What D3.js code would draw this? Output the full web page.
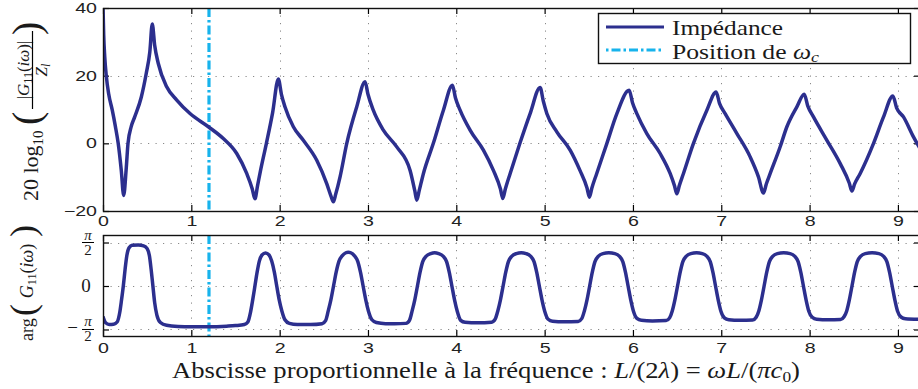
<!DOCTYPE html>
<html><head><meta charset="utf-8">
<script src="https://cdn.jsdelivr.net/npm/d3@7"></script>
<style>
html,body{margin:0;padding:0;background:#fff;}
svg{display:block;}
.serif{font-family:"Liberation Serif","Times New Roman",serif;}
</style></head>
<body>
<script>
// ---------- data ----------
const xTicks = [0,1,2,3,4,5,6,7,8,9];
const magTicks = [-20,0,20,40];
const phaseTicks = [-Math.PI/2, 0, Math.PI/2];
const omegaC = 1.2;

const magX = [0,0.008,0.02,0.037,0.065,0.105,0.14,0.172,0.207,0.234,0.264,0.283,0.32,0.359,0.434,0.49,0.53,0.558,0.585,0.626,0.721,0.835,0.985,1.193,1.362,1.514,1.627,1.69,1.72,1.75,1.78,1.85,1.92,1.985,2.02,2.06,2.155,2.268,2.42,2.533,2.58,2.608,2.635,2.684,2.76,2.873,2.967,3.0,3.06,3.174,3.326,3.477,3.53,3.553,3.58,3.628,3.74,3.854,3.956,3.99,4.043,4.156,4.307,4.42,4.5,4.527,4.555,4.61,4.72,4.836,4.949,4.985,5.025,5.138,5.289,5.4,5.48,5.507,5.535,5.59,5.705,5.818,5.957,5.995,6.044,6.157,6.308,6.421,6.47,6.497,6.525,6.572,6.685,6.837,6.942,6.98,7.044,7.177,7.327,7.421,7.478,7.51,7.554,7.667,7.743,7.856,7.939,7.98,8.044,8.196,8.347,8.45,8.479,8.51,8.573,8.724,8.837,8.943,8.985,9.063,9.176,9.25];
const magY = [40.5,32,25.5,20,14.5,9.8,5,0,-8,-15.4,-7,0,5,7.8,13.7,20.7,27,35.3,29,23.6,16.7,12.8,8.8,4.9,1.4,-3.0,-8.9,-13.5,-16.4,-12.5,-8.5,0,9,19.0,14.5,10.8,4.9,0.9,-5.0,-11.9,-15.5,-17.3,-15,-9.9,0,10.8,18.2,14.5,9.8,3.9,-1.05,-8.0,-14,-16.8,-14,-8.9,0,9.8,17.2,13.5,9.8,3.9,-2.0,-8.0,-13.5,-16.3,-13.5,-8.9,0,8.8,16.5,12.5,8.8,3.4,-2,-8,-13.2,-15.9,-13.2,-8.9,0,8.8,15.7,12,8.8,2.9,-3.0,-8.9,-12.5,-14.9,-12.5,-8.9,0,9.8,15.2,11.8,8.8,2.9,-4.0,-9.9,-14.7,-12,-8.9,-1.0,4.9,10.8,14.5,11,7.8,0.9,-6.0,-11.8,-14.1,-12,-8.9,0,7.8,14,10.5,7.8,1.9,-1.5];

const phaseX = [0,0.03,0.07,0.12,0.16,0.19,0.21,0.23,0.25,0.27,0.295,0.33,0.4,0.46,0.5,0.525,0.545,0.565,0.585,0.61,0.65,0.72,0.85,1.0,1.2,1.4,1.5,
  1.6,1.64,1.67,1.695,1.72,1.745,1.77,1.8,1.84,1.88,1.91,1.94,1.967,1.995,2.025,2.06,2.11,2.2,2.35,
  2.48,2.52,2.55,2.58,2.61,2.64,2.67,2.71,2.75,2.777,2.805,2.845,2.885,2.915,2.945,2.975,3.005,3.045,3.095,3.2,3.3,
  3.43,3.47,3.5,3.53,3.56,3.59,3.62,3.66,3.71,3.755,3.8,3.85,3.89,3.92,3.95,3.98,4.01,4.05,4.1,4.24,
  4.4,4.44,4.47,4.5,4.53,4.56,4.59,4.63,4.68,4.735,4.79,4.84,4.88,4.91,4.94,4.97,5.0,5.04,5.09,5.22,
  5.38,5.42,5.45,5.48,5.51,5.54,5.57,5.61,5.66,5.727,5.795,5.845,5.885,5.915,5.945,5.975,6.005,6.045,6.095,6.22,
  6.375,6.415,6.445,6.475,6.505,6.535,6.565,6.605,6.655,6.72,6.785,6.835,6.875,6.905,6.935,6.965,6.995,7.035,7.085,7.21,
  7.355,7.395,7.425,7.455,7.485,7.515,7.545,7.585,7.635,7.707,7.78,7.83,7.87,7.9,7.93,7.96,7.99,8.03,8.08,8.21,
  8.35,8.39,8.42,8.45,8.48,8.51,8.54,8.58,8.63,8.707,8.785,8.835,8.875,8.905,8.935,8.965,8.995,9.035,9.085,9.25];
const phaseY = [-1.1,-1.33,-1.39,-1.38,-1.3,-0.95,-0.5,0,0.6,1.1,1.38,1.47,1.48,1.45,1.35,1.1,0.6,0,-0.6,-1.05,-1.32,-1.42,-1.46,-1.47,-1.47,-1.45,-1.43,
  -1.39,-1.3,-0.95,-0.5,0,0.5,0.9,1.12,1.19,1.12,0.9,0.5,0,-0.5,-0.9,-1.22,-1.35,-1.39,-1.39,
  -1.36,-1.25,-0.9,-0.5,0,0.5,0.88,1.1,1.2,1.22,1.2,1.1,0.88,0.5,0,-0.5,-0.9,-1.22,-1.32,-1.36,-1.36,
  -1.35,-1.24,-0.9,-0.5,0,0.5,0.88,1.08,1.17,1.2,1.17,1.08,0.88,0.5,0,-0.5,-0.9,-1.24,-1.31,-1.33,
  -1.31,-1.2,-0.9,-0.5,0,0.5,0.88,1.08,1.17,1.2,1.17,1.08,0.88,0.5,0,-0.5,-0.9,-1.2,-1.27,-1.29,
  -1.28,-1.18,-0.9,-0.5,0,0.5,0.88,1.08,1.17,1.2,1.17,1.08,0.88,0.5,0,-0.5,-0.9,-1.17,-1.24,-1.26,
  -1.25,-1.15,-0.9,-0.5,0,0.5,0.88,1.08,1.17,1.2,1.17,1.08,0.88,0.5,0,-0.5,-0.9,-1.15,-1.22,-1.24,
  -1.23,-1.13,-0.9,-0.5,0,0.5,0.88,1.08,1.17,1.2,1.17,1.08,0.88,0.5,0,-0.5,-0.9,-1.13,-1.2,-1.22,
  -1.21,-1.11,-0.9,-0.5,0,0.5,0.88,1.08,1.17,1.2,1.17,1.08,0.88,0.5,0,-0.5,-0.9,-1.12,-1.18,-1.2];

// ---------- styles ----------
const W = 918, H = 389;
const CURVE = "#2c2f8e", OMEGA = "#17b3ec";
const SERIF = "Liberation Serif";
const SANS = "Liberation Sans";

const svg = d3.select("body").append("svg").attr("width", W).attr("height", H)
  .attr("font-family", SERIF).attr("class","serif");

const x = d3.scaleLinear().domain([0, 9.25]).range([103, 920]);
const yMag = d3.scaleLinear().domain([-20, 40]).range([211, 8]);
const yPh = d3.scaleLinear().domain([-1.806, 1.842]).range([336, 235]);

const defs = svg.append("defs");
defs.append("clipPath").attr("id","clipTop").append("rect")
  .attr("x",103).attr("y",8).attr("width",817).attr("height",203);
defs.append("clipPath").attr("id","clipBot").append("rect")
  .attr("x",103).attr("y",235).attr("width",817).attr("height",101);

function stext(sel) { return sel.append("text").attr("font-family", SERIF).attr("fill","#1a1a1a"); }

function panel(yScale, yTicksV, top, bottom, hasYLabels, xPad) {
  const g = svg.append("g");
  g.append("rect").attr("x",103).attr("y",top).attr("width",817).attr("height",bottom-top)
    .attr("fill","#fff");
  const grid = g.append("g").attr("stroke","#8a8a8a").attr("stroke-width",1)
    .attr("stroke-dasharray","1.2,6.3");
  grid.selectAll(".gv").data(xTicks.filter(d => d > 0)).join("line")
    .attr("x1", d => Math.round(x(d))+0.5).attr("x2", d => Math.round(x(d))+0.5)
    .attr("y1", top).attr("y2", bottom);
  grid.selectAll(".gh").data(yTicksV.filter(d => yScale(d) > top+1 && yScale(d) < bottom-1)).join("line")
    .attr("x1", 103).attr("x2", 920)
    .attr("y1", d => Math.round(yScale(d))+0.5).attr("y2", d => Math.round(yScale(d))+0.5);
  const ab = g.append("g").attr("transform",`translate(0,${bottom})`)
    .call(d3.axisBottom(x).tickValues(xTicks).tickSize(-6).tickPadding(xPad).tickFormat(d3.format("d")));
  g.append("g").attr("transform",`translate(0,${top})`)
    .call(d3.axisTop(x).tickValues(xTicks).tickSize(-6).tickFormat(""));
  const al = g.append("g").attr("transform","translate(103,0)")
    .call(d3.axisLeft(yScale).tickValues(yTicksV).tickSize(-6).tickPadding(6)
      .tickFormat(hasYLabels ? d3.format("d") : ""));
  g.append("g").attr("transform","translate(920,0)")
    .call(d3.axisRight(yScale).tickValues(yTicksV).tickSize(-6).tickFormat(""));
  g.selectAll(".domain").remove();
  g.selectAll(".tick line").attr("stroke","#000").attr("stroke-width",1.2);
  ab.selectAll("text").attr("font-family",SANS).attr("font-size",14).attr("fill","#222")
    .attr("transform","scale(1.4,1)");
  al.selectAll("text").attr("font-family",SANS).attr("font-size",14).attr("fill","#222")
    .attr("x",-6/1.4).attr("transform","scale(1.4,1)");
  return g;
}

const gTop = panel(yMag, magTicks, 8, 211, true, 5);
const gBot = panel(yPh, phaseTicks, 235, 336, false, 7);

[[gTop,8,211],[gBot,235,336]].forEach(([g,t,b]) => {
  g.append("line").attr("x1",x(omegaC)).attr("x2",x(omegaC)).attr("y1",t).attr("y2",b)
    .attr("stroke",OMEGA).attr("stroke-width",3.2).attr("stroke-dasharray","9,3,2.5,3");
});

const magData = magX.map((d,i) => [d, magY[i]]);
const phData = phaseX.map((d,i) => [d, phaseY[i]]);
gTop.append("path").datum(magData).attr("clip-path","url(#clipTop)")
  .attr("fill","none").attr("stroke",CURVE).attr("stroke-width",3.5).attr("stroke-linejoin","round")
  .attr("d", d3.line().x(d => x(d[0])).y(d => yMag(d[1])).curve(d3.curveMonotoneX));
gBot.append("path").datum(phData).attr("clip-path","url(#clipBot)")
  .attr("fill","none").attr("stroke",CURVE).attr("stroke-width",3.5).attr("stroke-linejoin","round")
  .attr("d", d3.line().x(d => x(d[0])).y(d => yPh(d[1])).curve(d3.curveMonotoneX));

[[8,211],[235,336]].forEach(([t,b]) => {
  svg.append("rect").attr("x",103.5).attr("y",t+0.5).attr("width",817).attr("height",b-t)
    .attr("fill","none").attr("stroke","#111").attr("stroke-width",1.4);
});

// phase y tick labels
function piFrac(yv, neg) {
  const yc = yPh(yv);
  stext(svg).attr("x",88).attr("y",yc-3).attr("text-anchor","middle")
    .attr("font-size",15).attr("font-style","italic").text("π");
  svg.append("line").attr("x1",82).attr("x2",94).attr("y1",yc).attr("y2",yc)
    .attr("stroke","#000").attr("stroke-width",1);
  stext(svg).attr("x",88).attr("y",yc+12).attr("text-anchor","middle")
    .attr("font-size",15).text("2");
  if (neg) stext(svg).attr("x",78).attr("y",yc+5).attr("text-anchor","end")
    .attr("font-size",19).text("−");
}
piFrac(Math.PI/2, false);
piFrac(-Math.PI/2, true);
stext(svg).attr("x",86).attr("y",yPh(0)+6.5).attr("text-anchor","middle")
  .attr("font-size",19).text("0");

function rot(xp, yp, size, anchor) {
  return stext(svg).attr("transform",`translate(${xp},${yp}) rotate(-90)`)
    .attr("font-size",size).attr("text-anchor",anchor||"start");
}
// top y label
{
  const t = rot(38, 201, 22);
  t.append("tspan").text("20 log");
  t.append("tspan").attr("font-size",15).attr("dy",5).text("10");
  rot(40, 125, 40).text("(");
  const n = rot(29, 70, 17, "middle");
  n.append("tspan").text("|");
  n.append("tspan").attr("font-style","italic").text("G");
  n.append("tspan").attr("font-size",12).attr("dy",3).text("11");
  n.append("tspan").attr("dy",-3).text("(");
  n.append("tspan").attr("font-style","italic").text("iω");
  n.append("tspan").text(")|");
  svg.append("line").attr("x1",32.5).attr("x2",32.5).attr("y1",31).attr("y2",109)
    .attr("stroke","#000").attr("stroke-width",1.2);
  const d = rot(47, 70, 17, "middle");
  d.append("tspan").attr("font-style","italic").text("Z");
  d.append("tspan").attr("font-style","italic").attr("font-size",12).attr("dy",3).text("l");
  rot(40, 35, 40).text(")");
}
// bottom y label
{
  rot(33, 341, 18).text("arg");
  rot(35, 316, 36).text("(");
  const g = rot(33, 271, 18, "middle");
  g.append("tspan").attr("font-style","italic").text("G");
  g.append("tspan").attr("font-size",12).attr("dy",3).text("11");
  g.append("tspan").attr("dy",-3).text("(");
  g.append("tspan").attr("font-style","italic").text("iω");
  g.append("tspan").text(")");
  rot(35, 237, 36).text(")");
}

// x label
{
  const t = stext(svg).attr("x",172).attr("y",378).attr("font-size",23)
    .attr("textLength",628).attr("lengthAdjust","spacingAndGlyphs");
  t.append("tspan").text("Abscisse proportionnelle à la fréquence : ");
  t.append("tspan").attr("font-style","italic").text("L");
  t.append("tspan").text("/(2");
  t.append("tspan").attr("font-style","italic").text("λ");
  t.append("tspan").text(") = ");
  t.append("tspan").attr("font-style","italic").text("ωL");
  t.append("tspan").text("/(");
  t.append("tspan").attr("font-style","italic").text("πc");
  t.append("tspan").attr("font-size",15).attr("dy",4).text("0");
  t.append("tspan").attr("dy",-4).text(")");
}

// legend
{
  const lg = svg.append("g");
  lg.append("rect").attr("x",598.5).attr("y",13.5).attr("width",312).attr("height",50)
    .attr("fill","#fff").attr("stroke","#111").attr("stroke-width",1.4);
  lg.append("line").attr("x1",606).attr("x2",664).attr("y1",27).attr("y2",27)
    .attr("stroke",CURVE).attr("stroke-width",3.2);
  lg.append("line").attr("x1",606).attr("x2",664).attr("y1",50).attr("y2",50)
    .attr("stroke",OMEGA).attr("stroke-width",3.2).attr("stroke-dasharray","2.5,3,9,3");
  stext(lg).attr("x",672).attr("y",34.5).attr("font-size",21.5)
    .attr("textLength",111).attr("lengthAdjust","spacingAndGlyphs").text("Impédance");
  const t2 = stext(lg).attr("x",672).attr("y",58.5).attr("font-size",21.5)
    .attr("textLength",147).attr("lengthAdjust","spacingAndGlyphs");
  t2.append("tspan").text("Position de ");
  t2.append("tspan").attr("font-style","italic").text("ω");
  t2.append("tspan").attr("font-style","italic").attr("font-size",15).attr("dy",3).text("c");
}
</script>
</body></html>
